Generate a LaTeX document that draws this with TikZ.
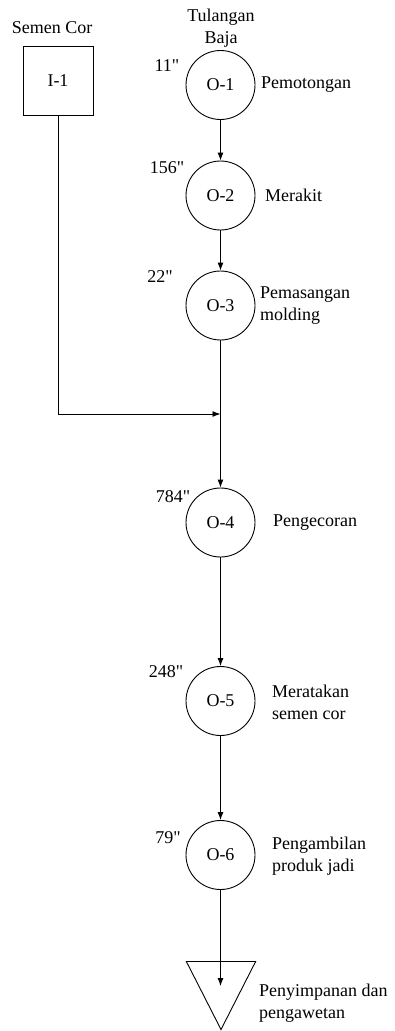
\documentclass[tikz,border=0pt]{standalone}
\usepackage{fontspec}
\newfontfamily\rf{Liberation Serif}
\usetikzlibrary{arrows.meta,shapes.geometric}
\begin{document}
\begin{tikzpicture}[x=1pt,y=-1pt,
  every node/.style={font=\rf\fontsize{18}{22}\selectfont, inner sep=0pt},
  op/.style={draw, circle, minimum size=69pt, line width=0.9pt},
  insp/.style={draw, minimum width=70pt, minimum height=69pt, line width=0.9pt},
  lbl/.style={anchor=west, align=left},
  tm/.style={},
  conn/.style={line width=0.9pt},
  arr/.style={conn, -{Latex[length=8pt,width=6pt]}}]
\useasboundingbox (0,0) rectangle (395,1031);
% inspection
\node (semen) at (52,28) {Semen Cor};
\node[insp] (i1) at (58,80.5) {I-1};
% operations
\node[align=center] (tul) at (221,28.5) {Tulangan\\Baja};
\node[op] (o1) at (220.5,85) {O-1};
\node[op] (o2) at (220.5,195.5) {O-2};
\node[op] (o3) at (220.5,305.5) {O-3};
\node[op] (o4) at (220.5,522.5) {O-4};
\node[op] (o5) at (220.5,701) {O-5};
\node[op] (o6) at (220.5,855) {O-6};
\node[draw, isosceles triangle, isosceles triangle apex angle=54, shape border rotate=-90, minimum height=68pt, line width=0.9pt, anchor=apex] (st) at (221,1030.5) {};
% times
\node[tm] (t1) at (167,66) {11"};
\node[tm] (t2) at (167,168) {156"};
\node[tm] (t3) at (160,277) {22"};
\node[tm] (t4) at (173,497) {784"};
\node[tm] (t5) at (166,672) {248"};
\node[tm] (t6) at (168,838) {79"};
% labels
\node[lbl] (l1) at (261,85) {Pemotongan};
\node[lbl] (l2) at (265,195.5) {Merakit};
\node[lbl] (l3) at (260,305.5) {Pemasangan\\molding};
\node[lbl] (l4) at (273,522.5) {Pengecoran};
\node[lbl] (l5) at (272,702) {Meratakan\\semen cor};
\node[lbl] (l6) at (272,856) {Pengambilan\\produk jadi};
\node[lbl] (l7) at (259,1003) {Penyimpanan dan\\pengawetan};
% connectors
\coordinate (m) at (220.5,414);
\coordinate (stin) at (220.5,986);
\draw[arr] (o1) -- (o2);
\draw[arr] (o2) -- (o3);
\draw[conn] (o3) -- (m);
\draw[arr] (i1.south) |- (m);
\draw[arr] (m) -- (o4);
\draw[arr] (o4) -- (o5);
\draw[arr] (o5) -- (o6);
\draw[arr] (o6) -- (stin);
\end{tikzpicture}
\end{document}
